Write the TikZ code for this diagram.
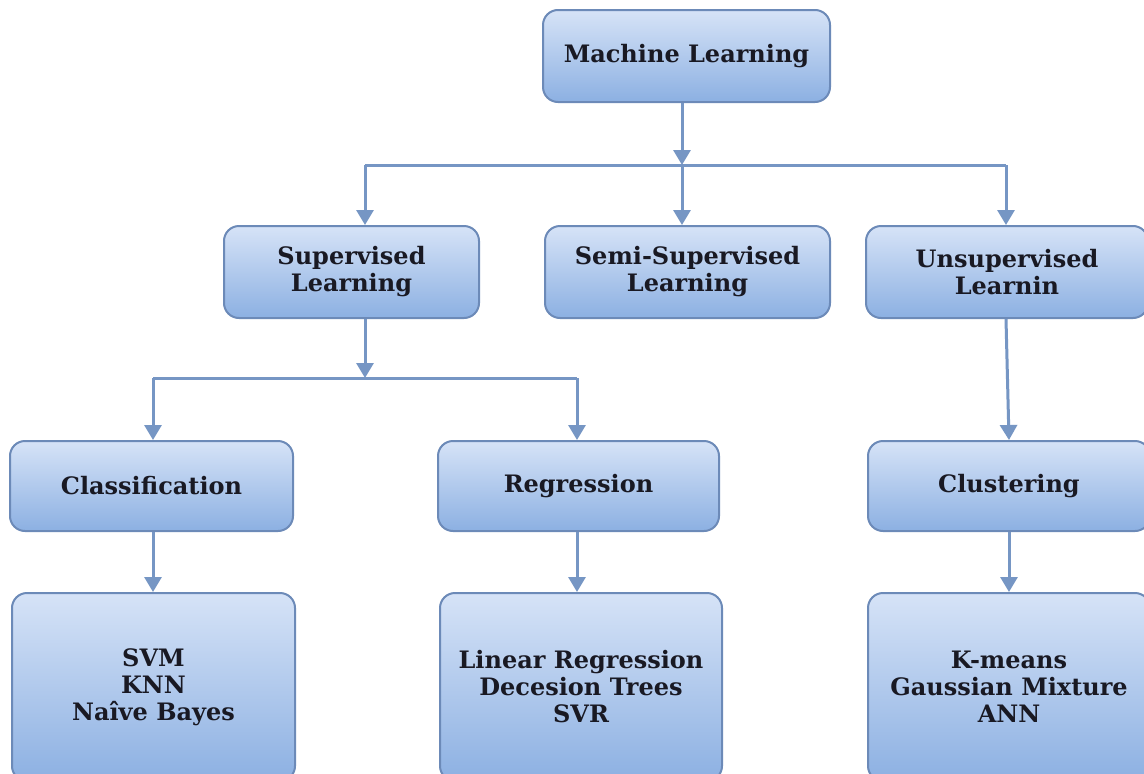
\documentclass[tikz,border=0pt]{standalone}
\usepackage{fontspec}
\newfontfamily\boxfont{DejaVu Serif}
\usetikzlibrary{arrows.meta}
\definecolor{edgeblue}{RGB}{118,150,196}
\definecolor{boxtop}{RGB}{214,227,247}
\definecolor{boxbot}{RGB}{140,176,226}
\definecolor{boxline}{RGB}{108,138,184}
\definecolor{txt}{RGB}{25,25,35}
\begin{document}
\begin{tikzpicture}[x=1pt,y=-1pt,
  mlbox/.style={draw=boxline, line width=2pt, rounded corners=15pt,
    top color=boxtop, bottom color=boxbot, inner sep=0pt,
    text=txt, font=\boxfont\fontsize{24}{27}\selectfont\bfseries, align=center},
  link/.style={draw=edgeblue, line width=3pt},
  arr/.style={link, -{Triangle[length=15pt,width=17pt]}}
]
\useasboundingbox (0,0) rectangle (1144,774);
\clip (0,0) rectangle (1144,774);
\fill[white] (0,0) rectangle (1144,774);

\node[mlbox, minimum width=287pt, minimum height=92pt] (ml) at (686.5,56) {Machine Learning};
\node[mlbox, minimum width=255pt, minimum height=92pt] (sup) at (351.5,272) {Supervised\\Learning};
\node[mlbox, minimum width=285pt, minimum height=92pt] (semi) at (687.5,272) {Semi-Supervised\\Learning};
\node[mlbox, minimum width=282pt, minimum height=92pt] (uns) at (1007,272) {Unsupervised\\Learnin};
\node[mlbox, minimum width=283pt, minimum height=90pt] (cls) at (151.5,486) {Classification};
\node[mlbox, minimum width=281pt, minimum height=90pt] (reg) at (578.5,486) {Regression};
\node[mlbox, minimum width=282pt, minimum height=90pt] (clu) at (1009,486) {Clustering};
\node[mlbox, minimum width=283pt, minimum height=188pt] (svm) at (153.5,687) {SVM\\KNN\\Na\^{\i}ve Bayes};
\node[mlbox, minimum width=282pt, minimum height=188pt] (lin) at (581,687) {Linear Regression\\Decesion Trees\\SVR};
\node[mlbox, minimum width=282pt, minimum height=188pt] (km) at (1009,687) {K-means\\Gaussian Mixture\\ANN};

\coordinate (j1) at (682,165);
\coordinate (j1l) at (365,165);
\coordinate (j1r) at (1006,165);
\coordinate (j2) at (365,378);
\coordinate (j2l) at (153,378);
\coordinate (j2r) at (577,378);

\draw[arr] (ml.south -| j1) -- (j1);
\draw[link] (j1l) -- (j1r);
\draw[arr] (j1l) -- (sup.north -| j1l);
\draw[arr] (j1) -- (semi.north -| j1);
\draw[arr] (j1r) -- (uns.north -| j1r);

\draw[arr] (sup.south -| j2) -- (j2);
\draw[link] (j2l) -- (j2r);
\draw[arr] (j2l) -- (cls.north -| j2l);
\draw[arr] (j2r) -- (reg.north -| j2r);

\draw[arr] (uns.south -| j1r) -- (clu.north);
\draw[arr] (cls.south -| j2l) -- (svm.north -| j2l);
\draw[arr] (reg.south -| j2r) -- (lin.north -| j2r);
\draw[arr] (clu.south) -- (km.north);
\end{tikzpicture}
\end{document}
